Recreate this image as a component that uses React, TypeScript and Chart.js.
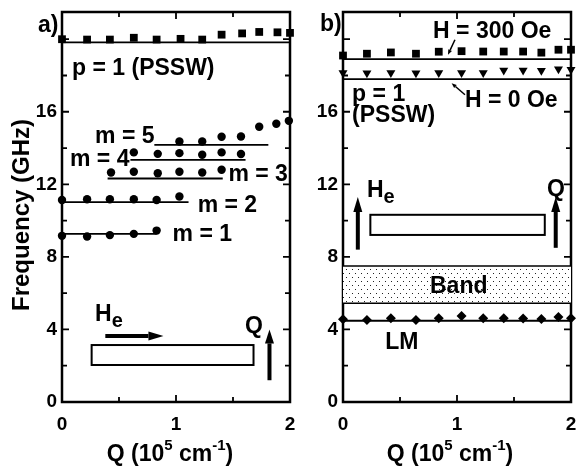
import React, { useEffect, useRef } from 'react';
import { Chart, registerables } from 'chart.js';

Chart.register(...registerables);

const FONT = '"Liberation Sans", Arial, Helvetica, sans-serif';

// ---------------- Panel a) data ----------------
const Q_A_PSSW = [0, 0.22, 0.42, 0.63, 0.83, 1.04, 1.23, 1.4, 1.58, 1.73, 1.89, 2.0];
const F_A_PSSW = [20.0, 19.98, 19.98, 20.08, 19.98, 20.02, 19.98, 20.25, 20.32, 20.4, 20.38, 20.35];
const Q_M1 = [0, 0.22, 0.42, 0.63, 0.83];
const F_M1 = [9.16, 9.12, 9.2, 9.27, 9.45];
const Q_M2 = [0, 0.22, 0.42, 0.63, 0.83, 1.03];
const F_M2 = [11.14, 11.18, 11.18, 11.18, 11.14, 11.33];
const Q_M3 = [0.43, 0.63, 0.84, 1.03, 1.23, 1.4];
const F_M3 = [12.65, 12.69, 12.61, 12.69, 12.65, 12.8];
const Q_M4 = [0.63, 0.84, 1.03, 1.23, 1.4, 1.57];
const F_M4 = [13.76, 13.68, 13.72, 13.63, 13.76, 13.67];
const Q_M5 = [1.03, 1.23, 1.4, 1.57, 1.73, 1.88, 1.99];
const F_M5 = [14.36, 14.36, 14.62, 14.64, 15.17, 15.34, 15.5];

// theory lines (q range, constant frequency)
const QL_A_PSSW = [0, 2];
const FL_A_PSSW = 19.82;
const QL_M1 = [0, 0.83];
const FL_M1 = 9.27;
const QL_M2 = [0, 1.11];
const FL_M2 = 11.02;
const QL_M3 = [0.4, 1.41];
const FL_M3 = 12.32;
const QL_M4 = [0.6, 1.61];
const FL_M4 = 13.35;
const QL_M5 = [0.81, 1.81];
const FL_M5 = 14.18;

// ---------------- Panel b) data ----------------
const Q_B = [0, 0.21, 0.42, 0.64, 0.84, 1.04, 1.23, 1.41, 1.58, 1.74, 1.89, 2.0];
const F_B_300 = [19.1, 19.2, 19.27, 19.2, 19.31, 19.34, 19.32, 19.32, 19.32, 19.26, 19.42, 19.42];
const F_B_0 = [18.15, 18.13, 18.15, 18.13, 18.15, 18.15, 18.15, 18.28, 18.28, 18.27, 18.35, 18.33];
const F_B_LM = [4.56, 4.52, 4.62, 4.52, 4.62, 4.74, 4.62, 4.62, 4.6, 4.58, 4.69, 4.62];
const QL_B = [0, 2];
const FL_B_300 = 18.9;
const FL_B_0 = 17.8;
const FL_B_LM = 4.48;
const BAND_LOW = 5.44;
const BAND_HIGH = 7.5;

// ---------------- axes ----------------
const X_MIN = 0;
const X_MAX = 2;
const X_STEP = 0.5;
const Y_MIN = 0;
const Y_MAX = 21.5;
const Y_STEP = 2;
const Y_LABELS = [0, 4, 8, 12, 16];
const X_LABELS = [0, 1, 2];

const pts = (qs: number[], fs: number[]) => qs.map((q, i) => ({ x: q, y: fs[i] }));
const hline = (qs: number[], f: number) => qs.map((q) => ({ x: q, y: f }));

function font(size: number) {
  return `bold ${size}px ${FONT}`;
}

function drawRich(ctx: CanvasRenderingContext2D, parts: [string, number, number][], x: number, y: number, align: 'left' | 'center') {
  let total = 0;
  for (const [t, s] of parts) {
    ctx.font = font(s);
    total += ctx.measureText(t).width;
  }
  let cx = align === 'center' ? x - total / 2 : x;
  ctx.textAlign = 'left';
  ctx.textBaseline = 'alphabetic';
  for (const [t, s, dy] of parts) {
    ctx.font = font(s);
    ctx.fillText(t, cx, y + dy);
    cx += ctx.measureText(t).width;
  }
}

function arrow(ctx: CanvasRenderingContext2D, x1: number, y1: number, x2: number, y2: number, lw: number, hl: number, hw: number) {
  const ang = Math.atan2(y2 - y1, x2 - x1);
  const bx = x2 - Math.cos(ang) * hl;
  const by = y2 - Math.sin(ang) * hl;
  ctx.save();
  ctx.strokeStyle = '#000';
  ctx.fillStyle = '#000';
  ctx.lineWidth = lw;
  ctx.lineCap = 'butt';
  ctx.beginPath();
  ctx.moveTo(x1, y1);
  ctx.lineTo(bx, by);
  ctx.stroke();
  ctx.beginPath();
  ctx.moveTo(x2, y2);
  ctx.lineTo(bx + Math.sin(ang) * hw / 2, by - Math.cos(ang) * hw / 2);
  ctx.lineTo(bx - Math.sin(ang) * hw / 2, by + Math.cos(ang) * hw / 2);
  ctx.closePath();
  ctx.fill();
  ctx.restore();
}

const frameTicks = {
  id: 'frameTicks',
  beforeDatasetsDraw(chart: any) {
    const { ctx, chartArea } = chart;
    const { left, right, top, bottom } = chartArea;
    const xs = chart.scales.x;
    const ys = chart.scales.y;
    ctx.save();
    ctx.strokeStyle = '#000';
    ctx.lineWidth = 1.8;
    for (const t of xs.ticks) {
      const px = xs.getPixelForValue(t.value);
      const len = Number.isInteger(t.value) ? 7 : 5;
      ctx.beginPath();
      ctx.moveTo(px, bottom);
      ctx.lineTo(px, bottom - len);
      ctx.moveTo(px, top);
      ctx.lineTo(px, top + len);
      ctx.stroke();
    }
    for (const t of ys.ticks) {
      const py = ys.getPixelForValue(t.value);
      const len = t.value % 4 === 0 ? 7 : 5;
      ctx.beginPath();
      ctx.moveTo(left, py);
      ctx.lineTo(left + len, py);
      ctx.moveTo(right, py);
      ctx.lineTo(right - len, py);
      ctx.stroke();
    }
    ctx.lineWidth = 2.5;
    ctx.strokeRect(left, top, right - left, bottom - top);
    ctx.restore();
  },
};

function xTitle(ctx: CanvasRenderingContext2D, cx: number) {
  ctx.fillStyle = '#000';
  drawRich(
    ctx,
    [
      ['Q (10', 23, 0],
      ['5', 15, -11],
      [' cm', 23, 0],
      ['-1', 15, -11],
      [')', 23, 0],
    ],
    cx,
    461,
    'center'
  );
}

function baseOptions(yAxisWidth: number, padRight: number): any {
  return {
    responsive: false,
    animation: false,
    layout: { padding: { top: 12, right: padRight, left: 0, bottom: 0 } },
    plugins: { legend: { display: false }, tooltip: { enabled: false }, title: { display: false } },
    scales: {
      x: {
        type: 'linear',
        min: X_MIN,
        max: X_MAX,
        grid: { display: false, drawTicks: false },
        border: { display: false },
        afterFit: (s: any) => {
          s.height = 64;
          s.paddingLeft = 0;
          s.paddingRight = 0;
        },
        ticks: {
          stepSize: X_STEP,
          includeBounds: false,
          autoSkip: false,
          maxRotation: 0,
          padding: 11,
          color: '#000',
          font: { family: FONT, size: 19, weight: 'bold' },
          callback: (v: number) => (X_LABELS.includes(v) ? String(v) : ''),
        },
      },
      y: {
        type: 'linear',
        min: Y_MIN,
        max: Y_MAX,
        grid: { display: false, drawTicks: false },
        border: { display: false },
        afterFit: (s: any) => {
          s.width = yAxisWidth;
          s.paddingTop = 0;
          s.paddingBottom = 0;
        },
        ticks: {
          stepSize: Y_STEP,
          includeBounds: false,
          autoSkip: false,
          padding: 5,
          color: '#000',
          font: { family: FONT, size: 19, weight: 'bold' },
          callback: (v: number) => (Y_LABELS.includes(v) ? String(v) : ''),
        },
      },
    },
  };
}

function lineDs(data: any[], lw = 1.8): any {
  return {
    data,
    showLine: true,
    borderColor: '#000',
    borderWidth: lw,
    pointRadius: 0,
    fill: false,
    clip: false,
  };
}

function ptDs(data: any[], style: string, r: number, rot = 0): any {
  return {
    data,
    showLine: false,
    pointStyle: style,
    pointRadius: r,
    pointRotation: rot,
    pointBackgroundColor: '#000',
    pointBorderColor: '#000',
    pointBorderWidth: 0,
    clip: false,
  };
}

function makeDotPattern(): CanvasPattern | string {
  const c = document.createElement('canvas');
  c.width = 6;
  c.height = 8;
  const g = c.getContext('2d');
  if (!g) return '#ddd';
  g.fillStyle = '#fff';
  g.fillRect(0, 0, 6, 8);
  g.fillStyle = '#222';
  g.fillRect(1, 1, 1, 1);
  g.fillRect(4, 5, 1, 1);
  const p = g.createPattern(c, 'repeat');
  return p || '#ddd';
}

export default function App() {
  const refA = useRef<HTMLCanvasElement>(null);
  const refB = useRef<HTMLCanvasElement>(null);

  useEffect(() => {
    if (!refA.current || !refB.current) return;

    const annA = {
      id: 'annA',
      afterDatasetsDraw(chart: any) {
        const { ctx, chartArea } = chart;
        const X = (v: number) => chart.scales.x.getPixelForValue(v);
        const Y = (v: number) => chart.scales.y.getPixelForValue(v);
        ctx.save();
        ctx.fillStyle = '#000';
        drawRich(ctx, [['p = 1 (PSSW)', 23, 0]], X(0.088), Y(18.04), 'left');
        drawRich(ctx, [['m = 5', 23, 0]], X(0.29), Y(14.27), 'left');
        drawRich(ctx, [['m = 4', 23, 0]], X(0.07), Y(13.02), 'left');
        drawRich(ctx, [['m = 3', 23, 0]], X(1.46), Y(12.16), 'left');
        drawRich(ctx, [['m = 2', 23, 0]], X(1.19), Y(10.5), 'left');
        drawRich(ctx, [['m = 1', 23, 0]], X(0.97), Y(8.85), 'left');
        drawRich(ctx, [['H', 23, 0], ['e', 20, 6]], X(0.29), Y(4.49), 'left');
        drawRich(ctx, [['Q', 23, 0]], X(1.605), Y(3.82), 'left');
        arrow(ctx, X(0.38), Y(3.64), X(0.89), Y(3.64), 4, 15, 9);
        arrow(ctx, X(1.82), Y(1.2), X(1.82), Y(4.0), 4, 14, 9);
        ctx.strokeStyle = '#000';
        ctx.lineWidth = 2;
        ctx.strokeRect(X(0.26), Y(3.14), X(1.68) - X(0.26), Y(2.04) - Y(3.14));
        drawRich(ctx, [['a)', 23, 0]], chartArea.left - 24, chartArea.top + 20, 'left');
        xTitle(ctx, (chartArea.left + chartArea.right) / 2 - 6);
        ctx.save();
        ctx.translate(22, 215);
        ctx.rotate(-Math.PI / 2);
        ctx.font = font(24);
        ctx.textAlign = 'center';
        ctx.textBaseline = 'middle';
        ctx.fillText('Frequency (GHz)', 0, 0);
        ctx.restore();
        ctx.restore();
      },
    };

    const chartA = new Chart(refA.current, {
      type: 'scatter',
      data: {
        datasets: [
          lineDs(hline(QL_A_PSSW, FL_A_PSSW)),
          lineDs(hline(QL_M1, FL_M1)),
          lineDs(hline(QL_M2, FL_M2)),
          lineDs(hline(QL_M3, FL_M3)),
          lineDs(hline(QL_M4, FL_M4)),
          lineDs(hline(QL_M5, FL_M5)),
          ptDs(pts(Q_A_PSSW, F_A_PSSW), 'rect', 5.5),
          ptDs(pts(Q_M1, F_M1), 'circle', 4.2),
          ptDs(pts(Q_M2, F_M2), 'circle', 4.2),
          ptDs(pts(Q_M3, F_M3), 'circle', 4.2),
          ptDs(pts(Q_M4, F_M4), 'circle', 4.2),
          ptDs(pts(Q_M5, F_M5), 'circle', 4.2),
        ],
      },
      options: baseOptions(62, 10),
      plugins: [frameTicks, annA],
    } as any);

    const annB = {
      id: 'annB',
      afterDatasetsDraw(chart: any) {
        const { ctx, chartArea } = chart;
        const X = (v: number) => chart.scales.x.getPixelForValue(v);
        const Y = (v: number) => chart.scales.y.getPixelForValue(v);
        ctx.save();
        ctx.fillStyle = '#000';
        drawRich(ctx, [['H = 300 Oe', 23, 0]], X(0.79), Y(20.08), 'left');
        arrow(ctx, X(0.982), Y(19.97), X(0.921), Y(19.15), 1.5, 5, 4);
        drawRich(ctx, [['H = 0 Oe', 23, 0]], X(1.07), Y(16.28), 'left');
        arrow(ctx, X(1.07), Y(16.94), X(0.953), Y(17.57), 1.5, 5, 4);
        drawRich(ctx, [['p = 1', 23, 0]], X(0.08), Y(16.57), 'left');
        drawRich(ctx, [['(PSSW)', 23, 0]], X(0.08), Y(15.45), 'left');
        drawRich(ctx, [['H', 23, 0], ['e', 20, 6]], X(0.21), Y(11.3), 'left');
        drawRich(ctx, [['Q', 23, 0]], X(1.79), Y(11.35), 'left');
        arrow(ctx, X(0.13), Y(8.4), X(0.13), Y(11.3), 4, 15, 9);
        arrow(ctx, X(1.866), Y(8.5), X(1.866), Y(11.3), 4, 15, 9);
        ctx.strokeStyle = '#000';
        ctx.lineWidth = 2;
        ctx.strokeRect(X(0.24), Y(10.32), X(1.77) - X(0.24), Y(9.21) - Y(10.32));
        drawRich(ctx, [['Band', 23, 0]], X(0.763), Y(6.0), 'left');
        drawRich(ctx, [['LM', 23, 0]], X(0.37), Y(2.9), 'left');
        drawRich(ctx, [['b)', 23, 0]], chartArea.left - 23, chartArea.top + 19, 'left');
        xTitle(ctx, (chartArea.left + chartArea.right) / 2 - 7);
        ctx.restore();
      },
    };

    const bandTop = lineDs(hline(QL_B, BAND_HIGH), 1.5);
    const bandBottom = { ...lineDs(hline(QL_B, BAND_LOW), 1.5), fill: '-1', backgroundColor: makeDotPattern() };

    const chartB = new Chart(refB.current, {
      type: 'scatter',
      data: {
        datasets: [
          bandTop,
          bandBottom,
          lineDs(hline(QL_B, FL_B_300)),
          lineDs(hline(QL_B, FL_B_0)),
          lineDs(hline(QL_B, FL_B_LM)),
          ptDs(pts(Q_B, F_B_300), 'rect', 5.5),
          ptDs(pts(Q_B, F_B_0), 'triangle', 5.2, 180),
          ptDs(pts(Q_B, F_B_LM), 'rectRot', 5),
        ],
      },
      options: baseOptions(43, 7),
      plugins: [frameTicks, annB],
    } as any);

    return () => {
      chartA.destroy();
      chartB.destroy();
    };
  }, []);

  return (
    <div style={{ position: 'absolute', left: 0, top: 0, width: 578, height: 466, background: '#fff' }}>
      <canvas ref={refA} width={300} height={466} style={{ position: 'absolute', left: 0, top: 0 }} />
      <canvas ref={refB} width={278} height={466} style={{ position: 'absolute', left: 300, top: 0 }} />
    </div>
  );
}
